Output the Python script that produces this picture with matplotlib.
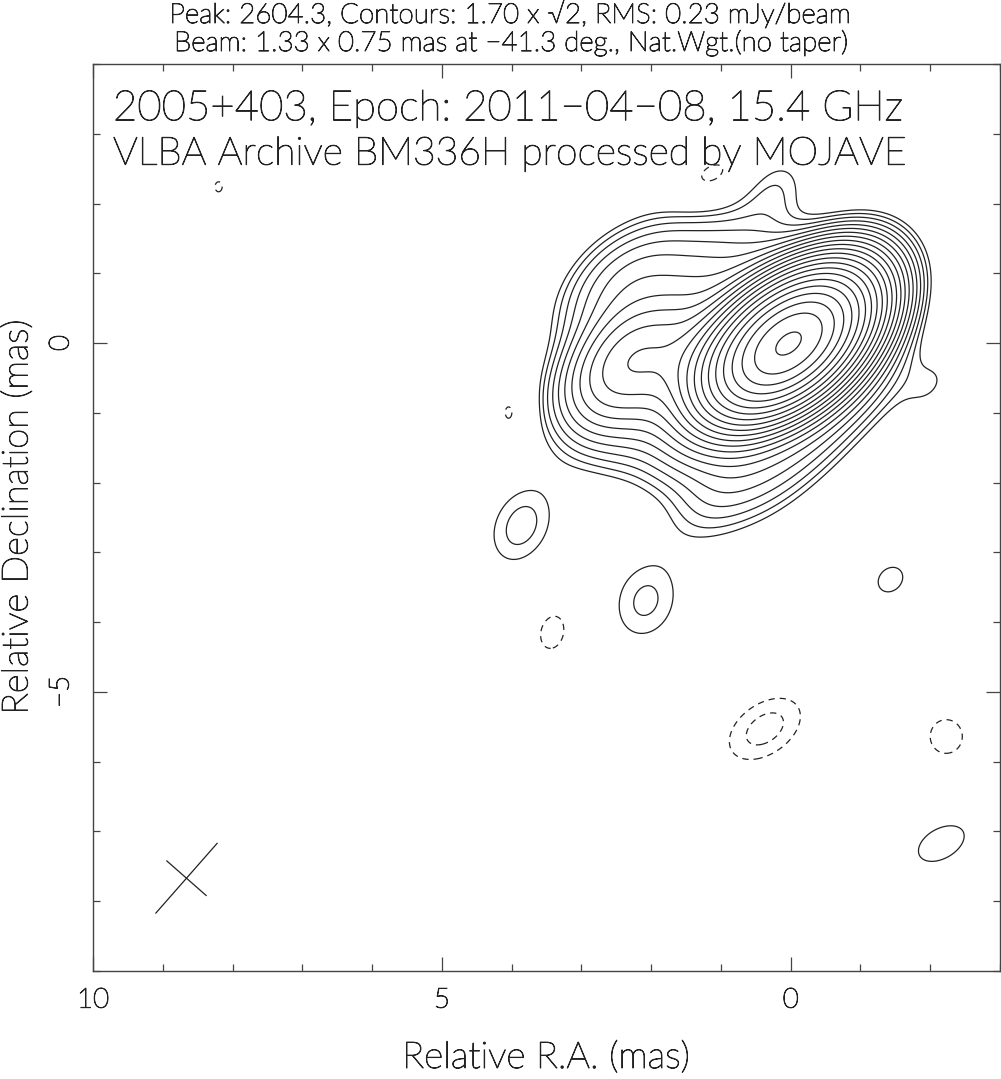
import numpy as np
import matplotlib
matplotlib.use('Agg')
import matplotlib.pyplot as plt
import matplotlib.patheffects as pe
from matplotlib.ticker import MultipleLocator

plt.rcParams['font.family'] = ['Lato', 'DejaVu Sans']

# map header values
peak_flux = 2604.3
base_level = 1.70
rms = 0.23
beam_maj, beam_min, beam_pa = 1.33, 0.75, -41.3
beam_x, beam_y = 8.66, -7.67

# model components:
# RA offset (mas), Dec offset (mas), peak (mJy/beam), FWHM major, minor (mas), PA (deg)
comp_x = [0.0, 0.25, 0.6,
          1.0, 1.5, 2.0, 2.45,
          0.6, 1.3, 2.0, 2.6,
          0.6, 1.3, 2.0, 2.5,
          1.0, 0.3, -0.3, -0.6, -0.9,
          0.25, -2.0,
          3.86, 2.08, -1.43, -2.16, 0.37, 3.41, -2.23, 1.13, 8.2, 4.02]
comp_y = [0.0, -0.05, -0.15,
          -0.2, -0.2, -0.2, -0.25,
          1.0, 1.0, 1.0, 0.8,
          -1.2, -1.2, -1.05, -0.85,
          -2.05, -1.8, -1.2, 0.8, -0.5,
          2.2, -0.6,
          -2.62, -3.7, -3.39, -7.17, -5.53, -4.14, -5.64, 2.39, 2.24, -1.0]
comp_peak = [2350, 250, 60,
             24, 20, 22, 32,
             5.5, 6.5, 6.5, 6,
             8, 8, 4.5, 4.5,
             3.6, 3.5, 5, 8, 6,
             2.1, 1.6,
             2.8, 2.61, 1.85, 2.1, -2.74, -1.95, -2.0, -2.1, -1.75, -1.9]
comp_maj = [1.45, 1.45, 1.4,
            1.4, 1.4, 1.4, 1.4,
            1.4, 1.4, 1.4, 1.4,
            1.4, 1.4, 1.4, 1.4,
            1.4, 1.4, 1.4, 1.4, 1.4,
            1.0, 0.9,
            1.2, 1.2, 1.1, 1.3, 1.37, 1.1, 1.0, 1.0, 0.7, 0.8]
comp_min = [0.85, 0.85, 0.9,
            0.85, 0.85, 0.85, 0.85,
            0.85, 0.85, 0.85, 0.85,
            0.85, 0.85, 0.85, 0.85,
            0.85, 0.85, 0.85, 0.9, 0.9,
            0.7, 0.6,
            0.85, 0.95, 0.9, 0.78, 0.86, 0.77, 0.95, 0.6, 0.5, 0.5]
comp_pa = [-50, -50, -45,
           -41, -41, -41, -41,
           -41, -41, -41, -41,
           -41, -41, -41, -41,
           -41, -41, -41, -45, -45,
           -40, -40,
           -25, -20, -45, -60, -55, -15, 0, -60, 0, 0]

# contour levels: base x sqrt(2)^n
level_steps = list(range(22))
neg_levels = [-base_level * np.sqrt(2), -base_level]

ra = np.linspace(-3, 10, 1301)
dec = np.linspace(-9, 4, 1301)
X, Y = np.meshgrid(ra, dec)
img = np.zeros_like(X)
for x0, y0, s, a, b, pa in zip(comp_x, comp_y, comp_peak, comp_maj, comp_min, comp_pa):
    t = np.radians(pa)
    dx, dy = X - x0, Y - y0
    u = dx * np.sin(t) + dy * np.cos(t)
    v = dx * np.cos(t) - dy * np.sin(t)
    img += s * np.exp(-4 * np.log(2) * ((u / a) ** 2 + (v / b) ** 2))

fig = plt.figure(figsize=(10.01, 10.79), dpi=100)
ax = fig.add_axes([93 / 1001, 108 / 1079, 907 / 1001, 907 / 1079])

line_col = '#222222'
levels = [base_level * np.sqrt(2) ** n for n in level_steps]
ax.contour(X, Y, img, levels=levels, colors=line_col, linewidths=0.9, linestyles='solid')
ax.contour(X, Y, img, levels=neg_levels, colors=line_col, linewidths=0.9,
           linestyles=[(0, (5, 4))])

# restoring beam cross
t = np.radians(beam_pa)
for length, ang in [(beam_maj, t), (beam_min, t + np.pi / 2)]:
    dx = 0.5 * length * np.sin(ang)
    dy = 0.5 * length * np.cos(ang)
    ax.plot([beam_x - dx, beam_x + dx], [beam_y - dy, beam_y + dy], color=line_col, lw=0.9)

ax.set_xlim(10, -3)
ax.set_ylim(-9, 4)
ax.xaxis.set_major_locator(MultipleLocator(5))
ax.xaxis.set_minor_locator(MultipleLocator(1))
ax.yaxis.set_major_locator(MultipleLocator(5))
ax.yaxis.set_minor_locator(MultipleLocator(1))
ax.tick_params(which='both', direction='in', top=True, right=True, color='#444444', width=0.9)
ax.tick_params(which='major', length=10)
ax.tick_params(which='minor', length=5)
ax.tick_params(axis='x', labelsize=20, pad=12, labelcolor='#222222')
ax.tick_params(axis='y', labelsize=20, pad=14, labelcolor='#222222')
thick = [pe.withStroke(linewidth=0.7, foreground='#222222')]
for lbl in ax.get_xticklabels() + ax.get_yticklabels():
    lbl.set_fontweight('light')
    lbl.set_path_effects(thick)
for lbl in ax.get_yticklabels():
    lbl.set_rotation(90)
    lbl.set_va('center')
for sp in ax.spines.values():
    sp.set_color('#444444')
    sp.set_linewidth(1.0)

txt_kw = dict(color='#222222', fontweight='light', path_effects=thick)
xl = fig.text(546 / 1001, 1 - 1058 / 1079, 'Relative R.A. (mas)', ha='center', va='center',
              fontsize=20, **txt_kw)
yl = fig.text(18 / 1001, 1 - 517 / 1079, 'Relative Declination (mas)', ha='center', va='center',
              rotation=90, fontsize=20, **txt_kw)
t1 = fig.text(510 / 1001, 1 - 23 / 1079, 'Peak: 2604.3, Contours: 1.70 x \u221a2, RMS: 0.23 mJy/beam',
              ha='center', va='baseline', fontsize=18, **txt_kw)
t2 = fig.text(511 / 1001, 1 - 51 / 1079,
              'Beam: 1.33 x 0.75 mas at \u221241.3 deg., Nat.Wgt.(no taper)',
              ha='center', va='baseline', fontsize=18, **txt_kw)
a1 = ax.text(0.022, 0.938, '2005+403, Epoch: 2011\u221204\u221208, 15.4 GHz',
             transform=ax.transAxes, ha='left', va='baseline', fontsize=26, **txt_kw)
a2 = ax.text(0.022, 0.889, 'VLBA Archive BM336H processed by MOJAVE',
             transform=ax.transAxes, ha='left', va='baseline', fontsize=26, **txt_kw)

# scale text sizes to the widths measured on the reference (titles capped by line spacing)
fig.canvas.draw()
r = fig.canvas.get_renderer()
for artist, target, use_h, cap in [(xl, 288, False, 30), (yl, 395, True, 30), (t1, 825, False, 20),
                                   (t2, 828, False, 20), (a1, 790, False, 40), (a2, 795, False, 40)]:
    ext = artist.get_window_extent(r)
    size = ext.height if use_h else ext.width
    artist.set_fontsize(min(cap, artist.get_fontsize() * target / size))

fig.savefig('out.png', dpi=100)
